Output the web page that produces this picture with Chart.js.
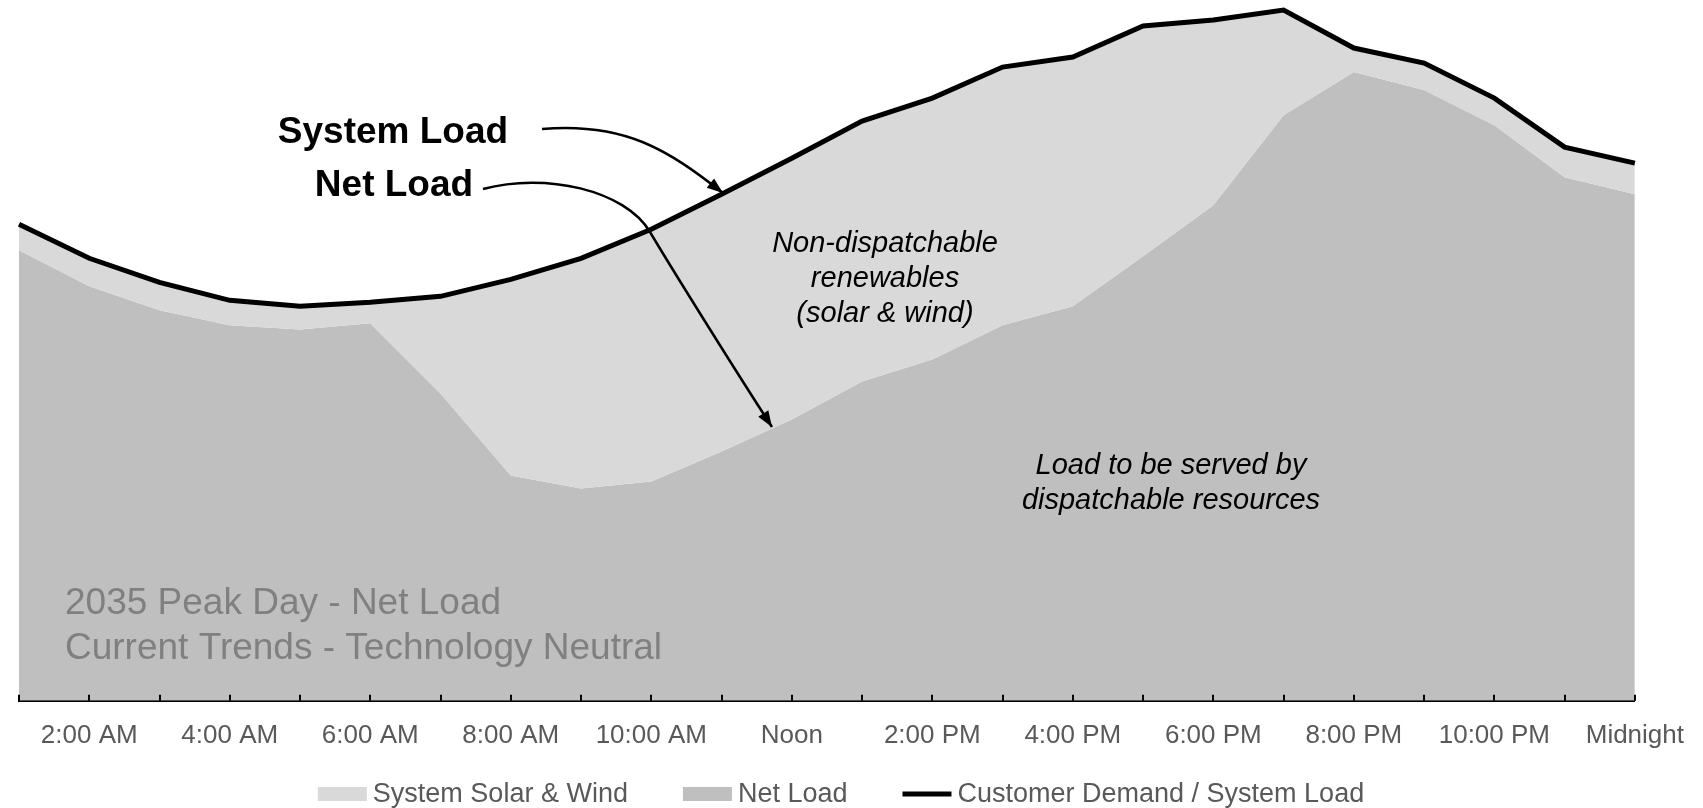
<!DOCTYPE html>
<html>
<head>
<meta charset="utf-8">
<script src="https://cdn.jsdelivr.net/npm/chart.js@4.4.0/dist/chart.umd.min.js"></script>
<style>
  html, body { margin: 0; padding: 0; background: #fff; }
  #wrap { width: 1703px; height: 808px; }
</style>
</head>
<body>
<div id="wrap"><canvas id="loadChart"></canvas></div>
<script>
// hourly points, 1:00 AM through midnight
const hours = ['1:00 AM', '2:00 AM', '3:00 AM', '4:00 AM', '5:00 AM', '6:00 AM',
    '7:00 AM', '8:00 AM', '9:00 AM', '10:00 AM', '11:00 AM', 'Noon',
    '1:00 PM', '2:00 PM', '3:00 PM', '4:00 PM', '5:00 PM', '6:00 PM',
    '7:00 PM', '8:00 PM', '9:00 PM', '10:00 PM', '11:00 PM', 'Midnight'];

const systemLoad = [47.6, 44.2, 41.8, 40.0, 39.4, 39.8, 40.4, 42.1, 44.2, 47.1, 50.6, 54.2,
    57.9, 60.2, 63.3, 64.3, 67.4, 68.0, 69.0, 65.2, 63.7, 60.2, 55.3, 53.7];
const netLoad = [45.0, 41.4, 39.0, 37.5, 37.1, 37.7, 30.7, 22.5, 21.2, 21.9, 24.9, 28.1,
    31.9, 34.1, 37.5, 39.4, 44.4, 49.5, 58.5, 62.8, 61.0, 57.5, 52.3, 50.6];

const seriesNames = ['System Solar & Wind', 'Net Load', 'Customer Demand / System Load'];

const FONT = '"Liberation Sans", Arial, sans-serif';
Chart.defaults.font.family = FONT;
Chart.defaults.font.size = 26;
Chart.defaults.color = '#595959';

// tick marks pointing up into the plot, one per hour
const innerTicks = {
    id: 'innerTicks',
    afterDatasetsDraw(chart) {
        const {ctx, chartArea} = chart;
        const x = chart.scales.x;
        ctx.save();
        ctx.strokeStyle = '#000';
        ctx.lineWidth = 2;
        x.ticks.forEach((t, i) => {
            const px = Math.round(x.getPixelForTick(i));
            ctx.beginPath();
            ctx.moveTo(px, chartArea.bottom);
            ctx.lineTo(px, chartArea.bottom - 6);
            ctx.stroke();
        });
        ctx.restore();
    }
};

// path: start point, then cubic segments [c1, c2, end]
function arrow(ctx, start, segs) {
    ctx.beginPath();
    ctx.moveTo(start[0], start[1]);
    segs.forEach(s => {
        ctx.bezierCurveTo(s[0][0], s[0][1], s[1][0], s[1][1], s[2][0], s[2][1]);
    });
    ctx.stroke();
    const last = segs[segs.length - 1];
    const tip = last[2];
    const from = last[1];
    const ang = Math.atan2(tip[1] - from[1], tip[0] - from[0]);
    const len = 16, half = 6;
    ctx.beginPath();
    ctx.moveTo(tip[0], tip[1]);
    ctx.lineTo(tip[0] - len * Math.cos(ang) + half * Math.sin(ang), tip[1] - len * Math.sin(ang) - half * Math.cos(ang));
    ctx.lineTo(tip[0] - len * Math.cos(ang) - half * Math.sin(ang), tip[1] - len * Math.sin(ang) + half * Math.cos(ang));
    ctx.closePath();
    ctx.fill();
}

// callouts and labels written on the chart
const notes = {
    id: 'notes',
    afterDatasetsDraw(chart) {
        const ctx = chart.ctx;
        ctx.save();
        ctx.fillStyle = '#000';
        ctx.strokeStyle = '#000';
        ctx.textBaseline = 'alphabetic';

        ctx.textAlign = 'center';
        ctx.font = 'bold 37px ' + FONT;
        ctx.fillText('System Load', 393, 143);
        ctx.fillText('Net Load', 394, 196);

        ctx.lineWidth = 2.5;
        arrow(ctx, [542, 129], [[[625, 122], [668, 150], [723, 193]]]);
        arrow(ctx, [483, 189], [
            [[545, 172], [625, 190], [650, 232]],
            [[672, 269], [735, 370], [772, 427]]
        ]);

        ctx.font = 'italic 29px ' + FONT;
        ctx.fillText('Non-dispatchable', 885, 252);
        ctx.fillText('renewables', 885, 287);
        ctx.fillText('(solar & wind)', 885, 322);
        ctx.fillText('Load to be served by', 1171, 474);
        ctx.fillText('dispatchable resources', 1171, 509);

        ctx.textAlign = 'left';
        ctx.fillStyle = '#808080';
        ctx.font = '37px ' + FONT;
        ctx.fillText('2035 Peak Day - Net Load', 65, 614);
        ctx.fillText('Current Trends - Technology Neutral', 65, 659);
        ctx.restore();
    }
};

// legend row under the axis
const legendRow = {
    id: 'legendRow',
    afterDraw(chart) {
        const ctx = chart.ctx;
        const ds = chart.data.datasets;
        const items = [ds[1], ds[2], ds[0]];
        const boxW = 49, gapText = 6, gapItem = 55, y = 794;
        ctx.save();
        ctx.font = '27px ' + FONT;
        ctx.textBaseline = 'middle';
        const widths = items.map(d => boxW + gapText + ctx.measureText(d.label).width);
        const total = widths.reduce((a, b) => a + b, 0) + gapItem * (items.length - 1);
        let x = 841 - total / 2;
        items.forEach((d, i) => {
            if (d.fill === false) {
                ctx.strokeStyle = d.borderColor;
                ctx.lineWidth = 5;
                ctx.beginPath();
                ctx.moveTo(x, y);
                ctx.lineTo(x + boxW, y);
                ctx.stroke();
            } else {
                ctx.fillStyle = d.backgroundColor;
                ctx.fillRect(x, y - 7, boxW, 14);
            }
            ctx.fillStyle = '#595959';
            ctx.fillText(d.label, x + boxW + gapText, y + 1);
            x += widths[i] + gapItem;
        });
        ctx.restore();
    }
};

const ctx = document.getElementById('loadChart').getContext('2d');
const loadChart = new Chart(ctx, {
    type: 'line',
    data: {
        labels: hours,
        datasets: [{
            label: seriesNames[2],
            data: systemLoad,
            borderColor: '#000',
            borderWidth: 5,
            pointRadius: 0,
            fill: false
        }, {
            label: seriesNames[0],
            data: systemLoad,
            borderColor: 'rgba(0,0,0,0)',
            borderWidth: 0,
            pointRadius: 0,
            backgroundColor: '#d9d9d9',
            fill: '+1'
        }, {
            label: seriesNames[1],
            data: netLoad,
            borderColor: 'rgba(0,0,0,0)',
            borderWidth: 0,
            pointRadius: 0,
            backgroundColor: '#bfbfbf',
            fill: 'origin'
        }]
    },
    options: {
        responsive: true,
        maintainAspectRatio: false,
        animation: false,
        events: [],
        layout: { padding: { left: 17, right: 68, top: 0, bottom: 38 } },
        plugins: {
            legend: { display: false },
            tooltip: { enabled: false }
        },
        scales: {
            x: {
                z: 1,
                offset: false,
                grid: { display: false, drawTicks: false },
                border: { display: true, color: '#000', width: 2 },
                ticks: {
                    autoSkip: false,
                    maxRotation: 0,
                    padding: 19,
                    color: '#595959',
                    callback: function(v, i) {
                        return i % 2 === 1 ? this.getLabelForValue(v) : '';
                    }
                }
            },
            y: {
                display: false,
                min: 0,
                max: 70
            }
        }
    },
    plugins: [innerTicks, notes, legendRow]
});
</script>
</body>
</html>
